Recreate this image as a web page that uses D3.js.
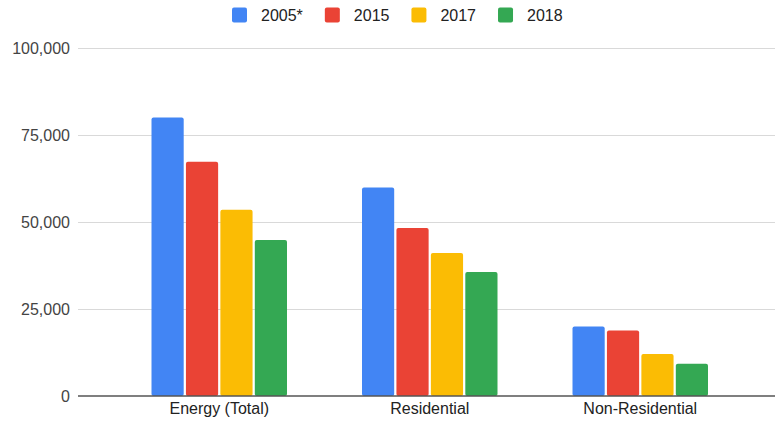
<!DOCTYPE html>
<html>
<head>
<meta charset="utf-8">
<script src="https://cdn.jsdelivr.net/npm/d3@7"></script>
<style>
  body { margin: 0; background: #fff; }
  text { font-family: "Liberation Sans", Arial, sans-serif; }
</style>
</head>
<body>
<div id="chart"></div>
<script>
// data
const categories = ["Energy (Total)", "Residential", "Non-Residential"]
const seriesNames = ["2005*", "2015", "2017", "2018"]
const values2005 = [80000, 59900, 20000]
const values2015 = [67300, 48300, 18800]
const values2017 = [53500, 41100, 12100]
const values2018 = [44800, 35600, 9300]
const yTicks = [0, 25000, 50000, 75000, 100000]
const colors = ["#4285f4", "#ea4335", "#fbbc04", "#34a853"]

const allValues = [values2005, values2015, values2017, values2018]
const data = categories.map((c, i) => {
    const row = {category: c}
    seriesNames.forEach((s, j) => row[s] = allValues[j][i])
    return row
})

const width = 775, height = 422
const svg = d3.select("#chart").append("svg")
    .attr("width", width)
    .attr("height", height)

// scales
const yScale = d3.scaleLinear()
    .domain([0, 100000])
    .range([396, 48])
const xScale = d3.scaleBand()
    .domain(categories)
    .range([114, 745.5])
const groupPad = 37.5
const x1 = d3.scaleBand()
    .domain(seriesNames)
    .range([groupPad, xScale.bandwidth() - groupPad])
    .paddingInner(0.065)
const color = d3.scaleOrdinal()
    .domain(seriesNames)
    .range(colors)

// gridlines + y labels
const yAxis = svg.append("g")
    .attr("class", "y-axis")
    .attr("transform", "translate(78,0)")
    .call(d3.axisLeft(yScale)
        .tickValues(yTicks)
        .tickSize(-(width - 78))
        .tickPadding(8)
        .tickFormat(d3.format(",")))
yAxis.select(".domain").remove()
yAxis.selectAll(".tick line")
    .attr("stroke", d => d === 0 ? "none" : "#d9d9d9")
yAxis.selectAll(".tick text")
    .attr("font-size", 16)
    .attr("fill", "#444")

// bars
svg.append("g")
    .selectAll("g")
    .data(data)
    .join("g")
    .attr("transform", d => "translate(" + xScale(d.category) + ",0)")
    .selectAll("rect")
    .data(d => seriesNames.map(k => ({key: k, value: d[k]})))
    .join("rect")
    .attr("x", d => x1(d.key))
    .attr("width", x1.bandwidth())
    .attr("y", d => yScale(d.value))
    .attr("height", d => yScale(0) - yScale(d.value))
    .attr("rx", 2)
    .attr("fill", d => color(d.key))

// baseline
svg.append("line")
    .attr("x1", 78).attr("x2", width)
    .attr("y1", yScale(0)).attr("y2", yScale(0))
    .attr("stroke", "#555")
    .attr("stroke-width", 1.5)

// x labels
const xAxis = svg.append("g")
    .attr("transform", "translate(0," + yScale(0) + ")")
    .call(d3.axisBottom(xScale).tickSize(0).tickPadding(7))
xAxis.select(".domain").remove()
xAxis.selectAll(".tick text")
    .attr("font-size", 16)
    .attr("fill", "#222")

// legend
const legend = svg.append("g")
let lx = 232
seriesNames.forEach((s, i) => {
    const item = legend.append("g").attr("transform", "translate(" + lx + ",0)")
    item.append("rect")
        .attr("x", 0).attr("y", 7.5)
        .attr("width", 15).attr("height", 15)
        .attr("rx", 2)
        .attr("fill", color(s))
    const t = item.append("text")
        .attr("x", 29).attr("y", 20.5)
        .attr("font-size", 16)
        .attr("fill", "#222")
        .text(s)
    lx += 29 + t.node().getComputedTextLength() + 22
})
</script>
</body>
</html>
